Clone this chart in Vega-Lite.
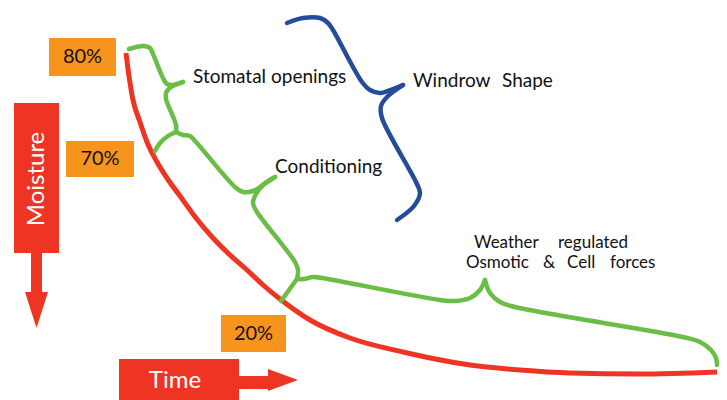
{
  "$schema": "https://vega.github.io/schema/vega-lite/v6.json",
  "width": 727,
  "height": 400,
  "padding": 0,
  "autosize": {"type": "fit", "contains": "padding"},
  "background": "white",
  "config": {"view": {"stroke": null}},
  "datasets": {
    "curves": [
      {"series": "red", "seg": "r", "o": 1, "x": 126, "y": 53},
      {"series": "red", "seg": "r", "o": 2, "x": 129, "y": 76},
      {"series": "red", "seg": "r", "o": 3, "x": 133, "y": 100},
      {"series": "red", "seg": "r", "o": 4, "x": 140, "y": 122},
      {"series": "red", "seg": "r", "o": 5, "x": 147, "y": 142},
      {"series": "red", "seg": "r", "o": 6, "x": 157, "y": 162},
      {"series": "red", "seg": "r", "o": 7, "x": 169, "y": 181},
      {"series": "red", "seg": "r", "o": 8, "x": 180, "y": 196},
      {"series": "red", "seg": "r", "o": 9, "x": 196, "y": 218},
      {"series": "red", "seg": "r", "o": 10, "x": 213, "y": 238},
      {"series": "red", "seg": "r", "o": 11, "x": 230, "y": 255},
      {"series": "red", "seg": "r", "o": 12, "x": 247, "y": 270},
      {"series": "red", "seg": "r", "o": 13, "x": 263, "y": 285},
      {"series": "red", "seg": "r", "o": 14, "x": 280, "y": 299},
      {"series": "red", "seg": "r", "o": 15, "x": 310, "y": 320},
      {"series": "red", "seg": "r", "o": 16, "x": 350, "y": 338},
      {"series": "red", "seg": "r", "o": 17, "x": 403, "y": 352},
      {"series": "red", "seg": "r", "o": 18, "x": 470, "y": 365},
      {"series": "red", "seg": "r", "o": 19, "x": 520, "y": 370},
      {"series": "red", "seg": "r", "o": 20, "x": 570, "y": 373},
      {"series": "red", "seg": "r", "o": 21, "x": 640, "y": 374},
      {"series": "red", "seg": "r", "o": 22, "x": 717, "y": 372},

      {"series": "green", "seg": "g1a", "o": 1, "x": 129, "y": 49},
      {"series": "green", "seg": "g1a", "o": 2, "x": 143, "y": 46},
      {"series": "green", "seg": "g1a", "o": 3, "x": 150, "y": 48},
      {"series": "green", "seg": "g1a", "o": 4, "x": 153, "y": 54},
      {"series": "green", "seg": "g1a", "o": 5, "x": 163, "y": 78},
      {"series": "green", "seg": "g1a", "o": 6, "x": 167, "y": 84},
      {"series": "green", "seg": "g1a", "o": 7, "x": 173, "y": 85},
      {"series": "green", "seg": "g1a", "o": 8, "x": 183, "y": 82},
      {"series": "green", "seg": "g1b", "o": 1, "x": 183, "y": 82},
      {"series": "green", "seg": "g1b", "o": 2, "x": 171, "y": 87},
      {"series": "green", "seg": "g1b", "o": 3, "x": 166, "y": 93},
      {"series": "green", "seg": "g1b", "o": 4, "x": 166, "y": 99},
      {"series": "green", "seg": "g1b", "o": 5, "x": 176, "y": 125},
      {"series": "green", "seg": "g1b", "o": 6, "x": 176, "y": 132},
      {"series": "green", "seg": "g1c", "o": 1, "x": 176, "y": 132},
      {"series": "green", "seg": "g1c", "o": 2, "x": 168, "y": 136},
      {"series": "green", "seg": "g1c", "o": 3, "x": 160, "y": 143},
      {"series": "green", "seg": "g1c", "o": 4, "x": 155, "y": 151},
      {"series": "green", "seg": "g2a", "o": 1, "x": 176, "y": 132},
      {"series": "green", "seg": "g2a", "o": 2, "x": 183, "y": 135},
      {"series": "green", "seg": "g2a", "o": 3, "x": 190, "y": 136},
      {"series": "green", "seg": "g2a", "o": 4, "x": 196, "y": 142},
      {"series": "green", "seg": "g2a", "o": 5, "x": 235, "y": 187},
      {"series": "green", "seg": "g2a", "o": 6, "x": 243, "y": 192},
      {"series": "green", "seg": "g2a", "o": 7, "x": 253, "y": 191},
      {"series": "green", "seg": "g2a", "o": 8, "x": 263, "y": 185},
      {"series": "green", "seg": "g2a", "o": 9, "x": 275, "y": 177},
      {"series": "green", "seg": "g2b", "o": 1, "x": 275, "y": 177},
      {"series": "green", "seg": "g2b", "o": 2, "x": 264, "y": 184},
      {"series": "green", "seg": "g2b", "o": 3, "x": 256, "y": 194},
      {"series": "green", "seg": "g2b", "o": 4, "x": 253, "y": 203},
      {"series": "green", "seg": "g2b", "o": 5, "x": 257, "y": 212},
      {"series": "green", "seg": "g2b", "o": 6, "x": 295, "y": 262},
      {"series": "green", "seg": "g2b", "o": 7, "x": 298, "y": 270},
      {"series": "green", "seg": "g2b", "o": 8, "x": 297, "y": 279},
      {"series": "green", "seg": "g3a", "o": 1, "x": 297, "y": 279},
      {"series": "green", "seg": "g3a", "o": 2, "x": 289, "y": 290},
      {"series": "green", "seg": "g3a", "o": 3, "x": 281, "y": 301},
      {"series": "green", "seg": "g3b", "o": 1, "x": 297, "y": 279},
      {"series": "green", "seg": "g3b", "o": 2, "x": 304, "y": 279},
      {"series": "green", "seg": "g3b", "o": 3, "x": 313, "y": 277},
      {"series": "green", "seg": "g3b", "o": 4, "x": 322, "y": 278},
      {"series": "green", "seg": "g3b", "o": 5, "x": 440, "y": 300},
      {"series": "green", "seg": "g3b", "o": 6, "x": 455, "y": 301},
      {"series": "green", "seg": "g3b", "o": 7, "x": 470, "y": 298},
      {"series": "green", "seg": "g3b", "o": 8, "x": 480, "y": 290},
      {"series": "green", "seg": "g3b", "o": 9, "x": 485, "y": 280},
      {"series": "green", "seg": "g3c", "o": 1, "x": 485, "y": 280},
      {"series": "green", "seg": "g3c", "o": 2, "x": 490, "y": 293},
      {"series": "green", "seg": "g3c", "o": 3, "x": 500, "y": 302},
      {"series": "green", "seg": "g3c", "o": 4, "x": 515, "y": 307},
      {"series": "green", "seg": "g3c", "o": 5, "x": 683, "y": 337},
      {"series": "green", "seg": "g3c", "o": 6, "x": 700, "y": 342},
      {"series": "green", "seg": "g3c", "o": 7, "x": 711, "y": 350},
      {"series": "green", "seg": "g3c", "o": 8, "x": 716, "y": 358},
      {"series": "green", "seg": "g3c", "o": 9, "x": 717, "y": 365},

      {"series": "blue", "seg": "ba", "o": 1, "x": 287, "y": 23},
      {"series": "blue", "seg": "ba", "o": 2, "x": 303, "y": 18},
      {"series": "blue", "seg": "ba", "o": 3, "x": 320, "y": 18},
      {"series": "blue", "seg": "ba", "o": 4, "x": 328, "y": 23},
      {"series": "blue", "seg": "ba", "o": 5, "x": 333, "y": 30},
      {"series": "blue", "seg": "ba", "o": 6, "x": 362, "y": 82},
      {"series": "blue", "seg": "ba", "o": 7, "x": 370, "y": 90},
      {"series": "blue", "seg": "ba", "o": 8, "x": 380, "y": 93},
      {"series": "blue", "seg": "ba", "o": 9, "x": 393, "y": 89},
      {"series": "blue", "seg": "ba", "o": 10, "x": 403, "y": 85},
      {"series": "blue", "seg": "bb", "o": 1, "x": 403, "y": 85},
      {"series": "blue", "seg": "bb", "o": 2, "x": 388, "y": 96},
      {"series": "blue", "seg": "bb", "o": 3, "x": 381, "y": 106},
      {"series": "blue", "seg": "bb", "o": 4, "x": 382, "y": 118},
      {"series": "blue", "seg": "bb", "o": 5, "x": 416, "y": 182},
      {"series": "blue", "seg": "bb", "o": 6, "x": 420, "y": 193},
      {"series": "blue", "seg": "bb", "o": 7, "x": 414, "y": 206},
      {"series": "blue", "seg": "bb", "o": 8, "x": 397, "y": 220}
    ],
    "boxes": [
      {"kind": "orange", "x": 49, "x2": 116, "y": 38, "y2": 76},
      {"kind": "orange", "x": 66, "x2": 134, "y": 141, "y2": 177},
      {"kind": "orange", "x": 221, "x2": 286, "y": 315, "y2": 352},
      {"kind": "red", "x": 14, "x2": 59, "y": 103, "y2": 253},
      {"kind": "red", "x": 31, "x2": 42, "y": 252, "y2": 293},
      {"kind": "red", "x": 119, "x2": 239, "y": 359, "y2": 400},
      {"kind": "red", "x": 238, "x2": 269, "y": 376, "y2": 389}
    ],
    "headDown": [
      {"y": 292, "x": 25, "x2": 48},
      {"y": 328, "x": 36.5, "x2": 36.5}
    ],
    "headRight": [
      {"x": 268, "y": 369, "y2": 391},
      {"x": 298, "y": 380, "y2": 380}
    ],
    "labels": [
      {"text": "Stomatal openings", "x": 193, "y": 83},
      {"text": "Conditioning", "x": 275, "y": 173},
      {"text": "Windrow", "x": 413, "y": 87},
      {"text": "Shape", "x": 502, "y": 87}
    ],
    "weather": [
      {"text": "Weather", "x": 474, "y": 248},
      {"text": "regulated", "x": 558, "y": 248},
      {"text": "Osmotic", "x": 466, "y": 268},
      {"text": "&", "x": 543, "y": 268},
      {"text": "Cell", "x": 567, "y": 268},
      {"text": "forces", "x": 610, "y": 268}
    ],
    "pct": [
      {"text": "80%", "x": 82.5, "y": 57},
      {"text": "70%", "x": 100, "y": 159},
      {"text": "20%", "x": 253.5, "y": 333.5}
    ]
  },
  "layer": [
    {
      "data": {"name": "boxes"},
      "mark": {"type": "rect"},
      "encoding": {
        "x": {"field": "x", "type": "quantitative", "scale": {"domain": [0, 727], "nice": false, "zero": false}, "axis": null},
        "x2": {"field": "x2"},
        "y": {"field": "y", "type": "quantitative", "scale": {"domain": [0, 400], "nice": false, "zero": false, "reverse": true}, "axis": null},
        "y2": {"field": "y2"},
        "color": {"field": "kind", "type": "nominal", "scale": {"domain": ["orange", "red"], "range": ["#F7941E", "#EE3524"]}, "legend": null}
      }
    },
    {
      "data": {"name": "headDown"},
      "mark": {"type": "area", "orient": "horizontal", "color": "#EE3524"},
      "encoding": {
        "y": {"field": "y", "type": "quantitative"},
        "x": {"field": "x", "type": "quantitative"},
        "x2": {"field": "x2"}
      }
    },
    {
      "data": {"name": "headRight"},
      "mark": {"type": "area", "orient": "vertical", "color": "#EE3524"},
      "encoding": {
        "x": {"field": "x", "type": "quantitative"},
        "y": {"field": "y", "type": "quantitative"},
        "y2": {"field": "y2"}
      }
    },
    {
      "data": {"name": "curves"},
      "transform": [{"filter": "datum.series === 'red'"}],
      "mark": {"type": "line", "interpolate": "monotone", "color": "#EE3524", "strokeWidth": 5, "strokeCap": "butt"},
      "encoding": {
        "x": {"field": "x", "type": "quantitative"},
        "y": {"field": "y", "type": "quantitative"},
        "order": {"field": "o", "type": "quantitative"}
      }
    },
    {
      "data": {"name": "curves"},
      "transform": [{"filter": "datum.series === 'green'"}],
      "mark": {"type": "line", "interpolate": "catmull-rom", "color": "#6ABD45", "strokeWidth": 4.5, "strokeCap": "round", "strokeJoin": "round"},
      "encoding": {
        "x": {"field": "x", "type": "quantitative"},
        "y": {"field": "y", "type": "quantitative"},
        "detail": {"field": "seg", "type": "nominal"},
        "order": {"field": "o", "type": "quantitative"}
      }
    },
    {
      "data": {"name": "curves"},
      "transform": [{"filter": "datum.series === 'blue'"}],
      "mark": {"type": "line", "interpolate": "catmull-rom", "color": "#244C9A", "strokeWidth": 4.5, "strokeCap": "round", "strokeJoin": "round"},
      "encoding": {
        "x": {"field": "x", "type": "quantitative"},
        "y": {"field": "y", "type": "quantitative"},
        "detail": {"field": "seg", "type": "nominal"},
        "order": {"field": "o", "type": "quantitative"}
      }
    },
    {
      "data": {"name": "labels"},
      "mark": {"type": "text", "align": "left", "baseline": "alphabetic", "font": "Lato", "fontSize": 19, "color": "#111111"},
      "encoding": {
        "x": {"field": "x", "type": "quantitative"},
        "y": {"field": "y", "type": "quantitative"},
        "text": {"field": "text"}
      }
    },
    {
      "data": {"name": "weather"},
      "mark": {"type": "text", "align": "left", "baseline": "alphabetic", "font": "Lato", "fontSize": 17, "color": "#111111"},
      "encoding": {
        "x": {"field": "x", "type": "quantitative"},
        "y": {"field": "y", "type": "quantitative"},
        "text": {"field": "text"}
      }
    },
    {
      "data": {"name": "pct"},
      "mark": {"type": "text", "align": "center", "baseline": "middle", "font": "Lato", "fontSize": 20, "color": "#111111"},
      "encoding": {
        "x": {"field": "x", "type": "quantitative"},
        "y": {"field": "y", "type": "quantitative"},
        "text": {"field": "text"}
      }
    },
    {
      "data": {"values": [{"text": "Moisture", "x": 36.5, "y": 179}]},
      "mark": {"type": "text", "align": "center", "baseline": "middle", "angle": 270, "font": "Lato", "fontSize": 24, "color": "white"},
      "encoding": {
        "x": {"field": "x", "type": "quantitative"},
        "y": {"field": "y", "type": "quantitative"},
        "text": {"field": "text"}
      }
    },
    {
      "data": {"values": [{"text": "Time", "x": 175, "y": 381}]},
      "mark": {"type": "text", "align": "center", "baseline": "middle", "font": "Lato", "fontSize": 24, "color": "white"},
      "encoding": {
        "x": {"field": "x", "type": "quantitative"},
        "y": {"field": "y", "type": "quantitative"},
        "text": {"field": "text"}
      }
    }
  ]
}
